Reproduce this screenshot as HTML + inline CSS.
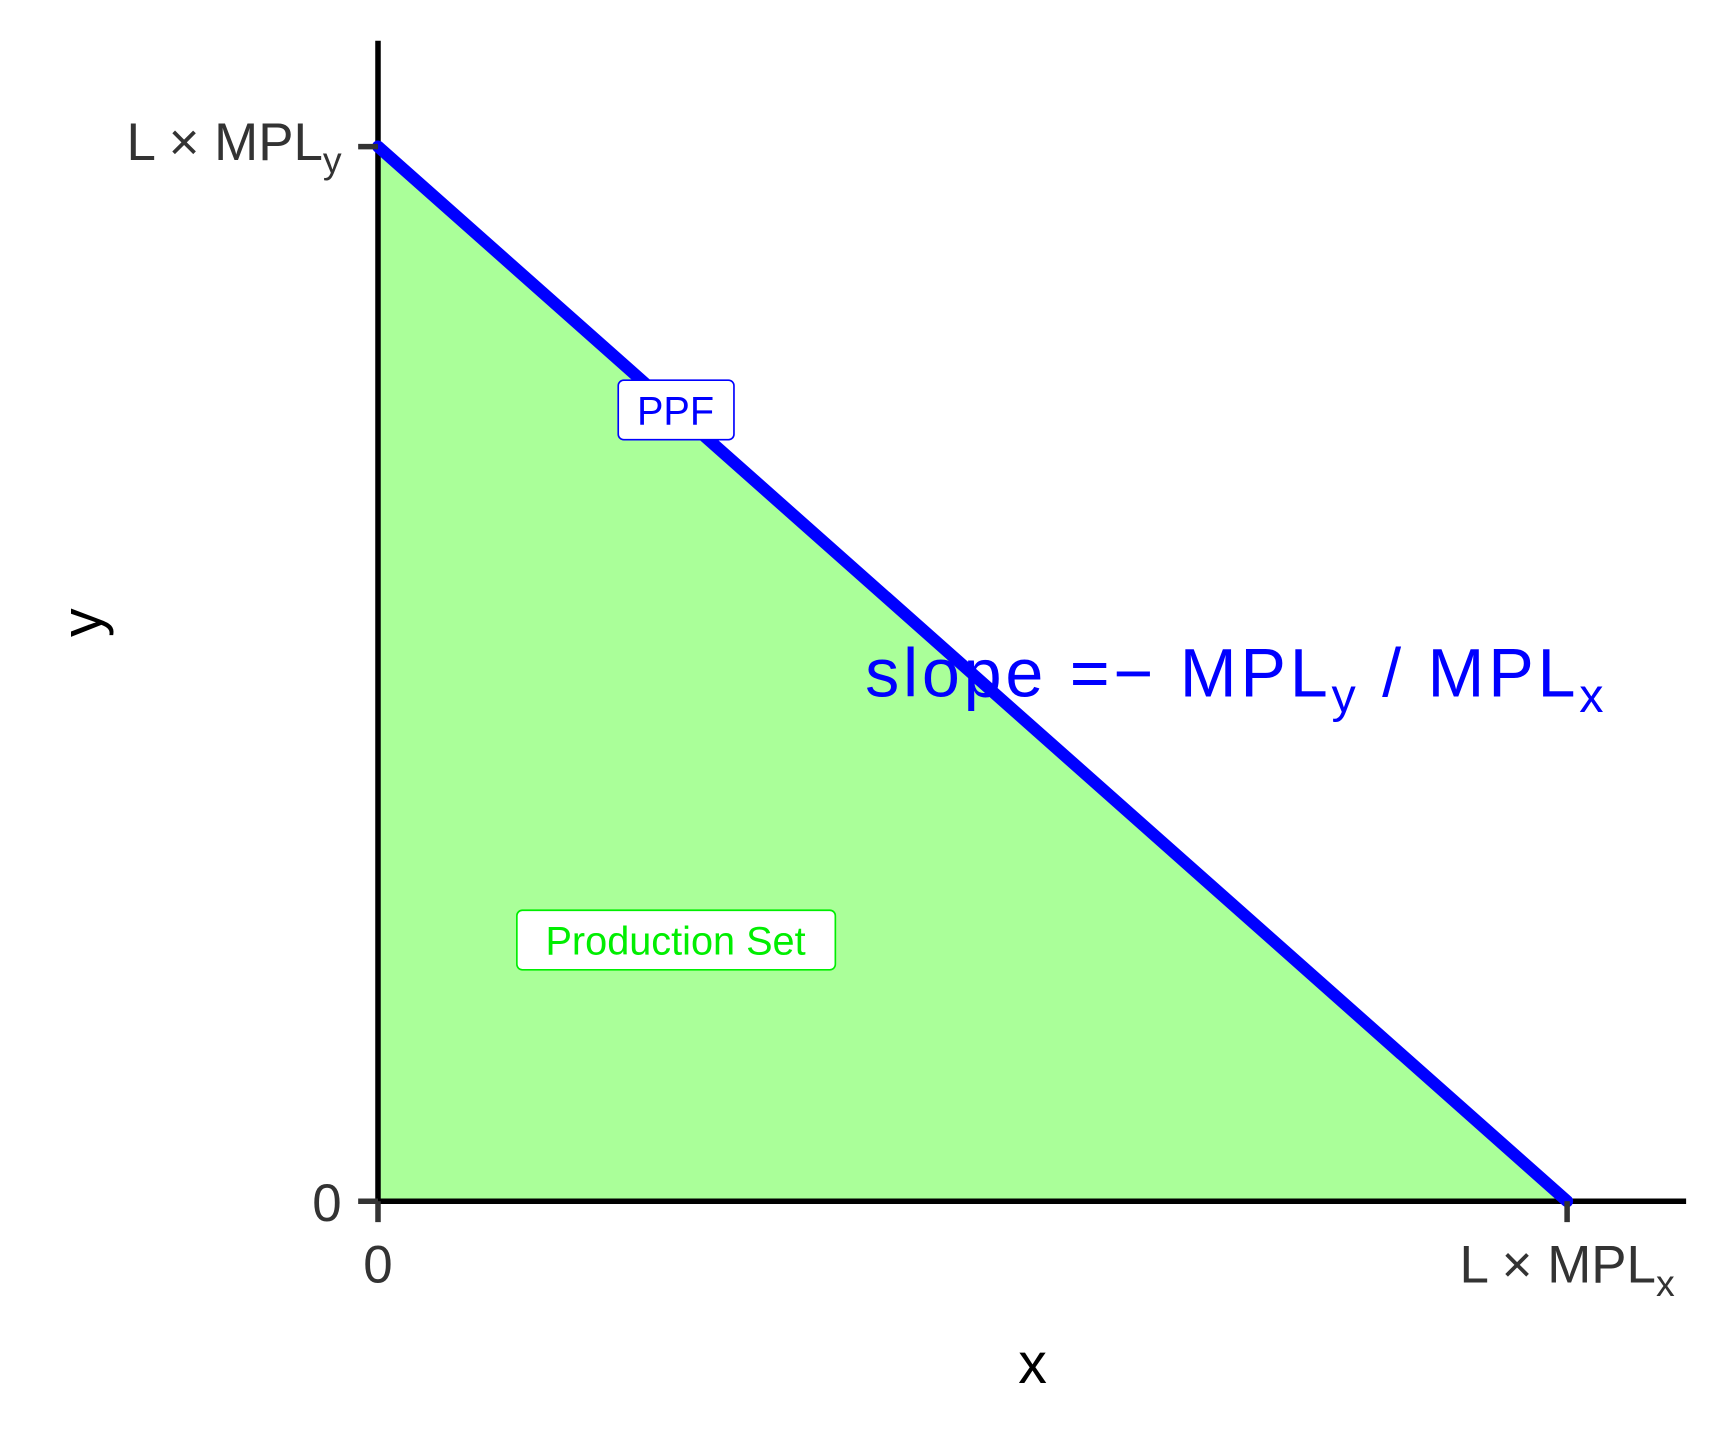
<!DOCTYPE html>
<html><head><meta charset="utf-8"><style>
html,body{margin:0;padding:0;background:#fff;}
svg{display:block;}
text{font-family:"Liberation Sans",sans-serif;}
.tick{fill:#333;font-size:48px;}
</style></head><body>
<svg id="chart" width="1728" height="1440" viewBox="0 0 1568 1306.7" preserveAspectRatio="none" xmlns="http://www.w3.org/2000/svg">
<g id="plot"></g>
</svg>
<script>
const xVals = [0, 1];
const yVals = [1, 0];
const xTicks = [0, 1];
const yTicks = [0, 1];
const xTickLabels = ["0", "L×MPLx"];
const yTickLabels = ["0", "L×MPLy"];
const ppfLabel = ["PPF"];
const setLabel = ["Production Set"];

const NS = "http://www.w3.org/2000/svg";
const X0 = 343, X1 = 1422, Y0 = 1090, Y1 = 133;
function sx(v){ return X0 + v * (X1 - X0); }
function sy(v){ return Y0 - v * (Y0 - Y1); }
const g = document.getElementById('plot');
function mk(tag, attrs, text){
  const e = document.createElementNS(NS, tag);
  for (const k in attrs) e.setAttribute(k, attrs[k]);
  if (text !== undefined) e.textContent = text;
  g.appendChild(e);
  return e;
}
let pts = xVals.map((v,i)=>sx(v)+','+sy(yVals[i])).join(' ') + ' ' + sx(0)+','+sy(0);
const area = mk('polygon', {points: pts, fill: '#aaff99'});


const ya = mk('line', {x1: X0, y1: 37, x2: X0, y2: Y0+2, stroke: '#000', 'stroke-width': 5});


const xa = mk('line', {x1: X0-2, y1: Y0, x2: 1530, y2: Y0, stroke: '#000', 'stroke-width': 5});


const ppf = mk('line', {x1: sx(xVals[0]), y1: sy(yVals[0]), x2: sx(xVals[1]), y2: sy(yVals[1]), stroke: '#0000ff', 'stroke-width': 11, 'stroke-linecap': 'round'});


function tickLabel(s, x, y, anchor){
  const t = mk('text', {x: x, y: y, 'text-anchor': anchor, class: 'tick'});
  if (s.startsWith('L×')) {
    const a = document.createElementNS(NS,'tspan'); a.textContent = 'L × MPL'; t.appendChild(a);
    const b = document.createElementNS(NS,'tspan'); b.textContent = s.slice(-1); b.setAttribute('font-size','34'); b.setAttribute('dy','12'); t.appendChild(b);
  } else t.textContent = s;
  return t;
}
xTicks.forEach((v,i)=>{
  const tk = mk('line', {x1: sx(v), y1: Y0, x2: sx(v), y2: Y0+19, stroke: '#333', 'stroke-width': 5});
  
  
  const t = tickLabel(xTickLabels[i], sx(v), 1164, 'middle');
  
  
});
yTicks.forEach((v,i)=>{
  const tk = mk('line', {x1: X0-18, y1: sy(v), x2: X0, y2: sy(v), stroke: '#333', 'stroke-width': 5});
  
  
  const t = tickLabel(yTickLabels[i], 310, sy(v)+(v===0?18:12), 'end');
  
  
});
const xt = mk('text', {x: 937, y: 1255, 'text-anchor': 'middle', 'font-size': 52, fill: '#000'}, 'x');


const yt = mk('text', {x: 92, y: 565, 'text-anchor': 'middle', 'font-size': 52, fill: '#000', transform: 'rotate(-90 92 565)'}, 'y');


const pb = mk('rect', {x: 561, y: 345, width: 105, height: 54, rx: 5, fill: '#fff', stroke: '#0000ff', 'stroke-width': 1.5});


const pl = mk('text', {x: 613, y: 385, 'text-anchor': 'middle', 'font-size': 36, fill: '#0000ff'}, ppfLabel[0]);


const sb = mk('rect', {x: 469, y: 826, width: 289, height: 54, rx: 5, fill: '#fff', stroke: '#00ee00', 'stroke-width': 1.5});


const sl = mk('text', {x: 613, y: 866, 'text-anchor': 'middle', 'font-size': 36, fill: '#00ee00'}, setLabel[0]);


const st = mk('text', {x: 785, y: 632, 'font-size': 62, fill: '#0000ff', textLength: 670, lengthAdjust: 'spacing'});


[['slope =− MPL',null],['y','s'],[' / MPL','n'],['x','s']].forEach(([s,k])=>{
  const sp = document.createElementNS(NS,'tspan'); sp.textContent = s;
  if (k==='s'){ sp.setAttribute('font-size','44'); sp.setAttribute('dy','14'); }
  if (k==='n'){ sp.setAttribute('dy','-14'); }
  st.appendChild(sp);
});
</script>
</body></html>
